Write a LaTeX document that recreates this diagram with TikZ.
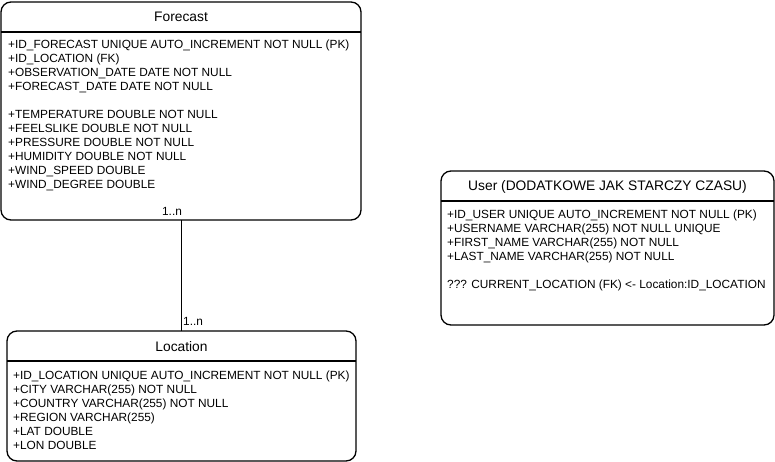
\documentclass[tikz,border=0pt]{standalone}
\usepackage{fontspec}
\setmainfont{Liberation Sans}
\begin{document}
\begin{tikzpicture}[x=1pt,y=-1pt,
  entity/.style={draw, rounded corners=10pt, line width=1.3pt, anchor=north west, inner sep=0pt, outer sep=0pt},
  sep/.style={line width=1.3pt},
  title/.style={font=\fontsize{13.8}{16}\selectfont, inner sep=0pt},
  attrs/.style={font=\fontsize{11.85}{14}\selectfont, align=left, anchor=north west, inner sep=0pt},
  mult/.style={font=\fontsize{11.85}{14}\selectfont, inner sep=0pt},
  link/.style={line width=0.9pt}]
\useasboundingbox (0,0) rectangle (775,462);
% Forecast
\node[entity, minimum width=360pt, minimum height=218pt] (forecast) at (1,2) {};
\node[title] (forecastTitle) at (181,17) {Forecast};
\draw[sep] (1,32) -- (361,32);
\node[attrs] (forecastAttrs) at (8,39.5) {+ID\_FORECAST UNIQUE AUTO\_INCREMENT NOT NULL (PK)\\
+ID\_LOCATION (FK)\\
+OBSERVATION\_DATE DATE NOT NULL\\
+FORECAST\_DATE DATE NOT NULL\\[14pt]
+TEMPERATURE DOUBLE NOT NULL\\
+FEELSLIKE DOUBLE NOT NULL\\
+PRESSURE DOUBLE NOT NULL\\
+HUMIDITY DOUBLE NOT NULL\\
+WIND\_SPEED DOUBLE\\
+WIND\_DEGREE DOUBLE};
% Location
\node[entity, minimum width=349pt, minimum height=130pt] (location) at (7,331) {};
\node[title] (locationTitle) at (181.5,347) {Location};
\draw[sep] (7,361) -- (356,361);
\node[attrs] (locationAttrs) at (13,370.5) {+ID\_LOCATION UNIQUE AUTO\_INCREMENT NOT NULL (PK)\\
+CITY VARCHAR(255) NOT NULL\\
+COUNTRY VARCHAR(255) NOT NULL\\
+REGION VARCHAR(255)\\
+LAT DOUBLE\\
+LON DOUBLE};
% User
\node[entity, minimum width=333pt, minimum height=154pt] (user) at (441,171) {};
\node[title] (userTitle) at (607.5,187) {User (DODATKOWE JAK STARCZY CZASU)};
\draw[sep] (441,201) -- (774,201);
\node[attrs] (userAttrs) at (447,209.5) {+ID\_USER UNIQUE AUTO\_INCREMENT NOT NULL (PK)\\
+USERNAME VARCHAR(255) NOT NULL UNIQUE\\
+FIRST\_NAME VARCHAR(255) NOT NULL\\
+LAST\_NAME VARCHAR(255) NOT NULL\\[14pt]
??? CURRENT\_LOCATION (FK) <- Location:ID\_LOCATION};
% Connector
\draw[link] (forecast.south) -- (forecast.south |- location.north);
\node[mult] (multTop) at (172,211) {1..n};
\node[mult, anchor=west] (multBottom) at (183,321) {1..n};
\end{tikzpicture}
\end{document}
